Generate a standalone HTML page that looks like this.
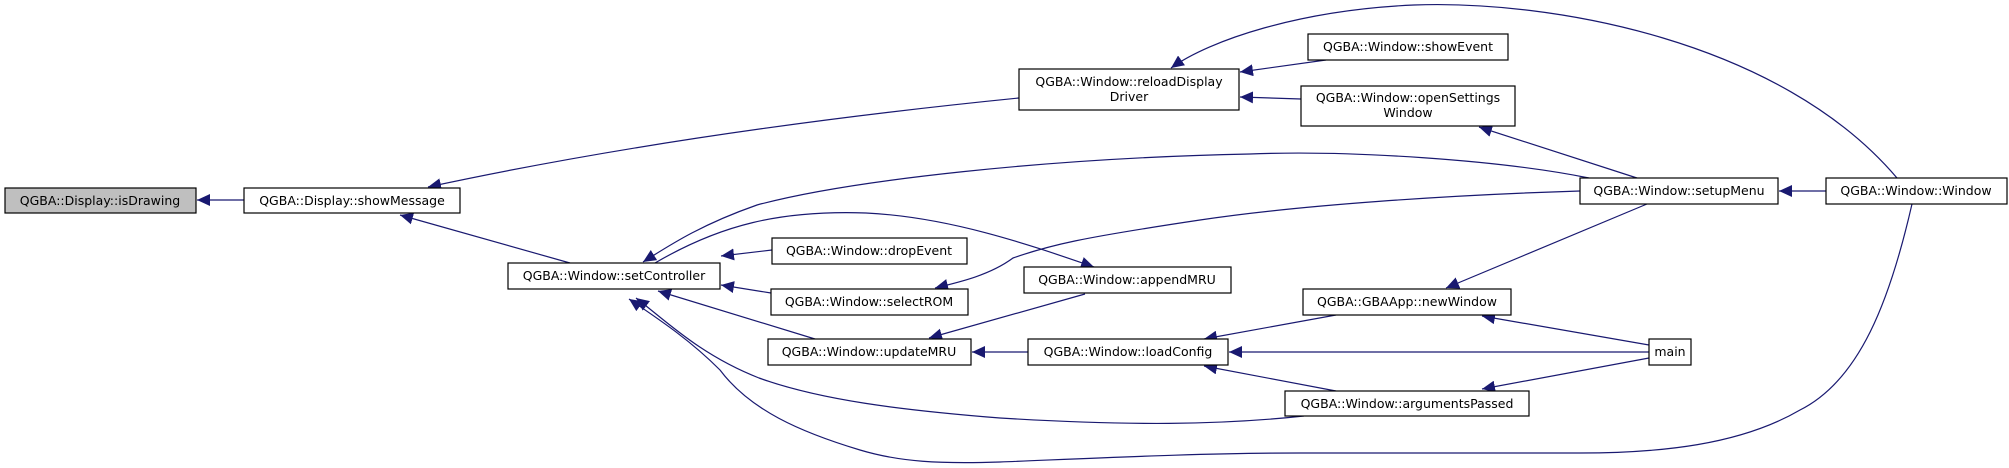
<!DOCTYPE html>
<html><head><meta charset="utf-8"><style>
html,body{margin:0;padding:0;background:#fff;}
svg{display:block;}
text{font-family:"DejaVu Sans","Liberation Sans",sans-serif;font-size:12.5px;fill:#000;}
</style></head><body>
<svg width="2009" height="468" viewBox="0 0 2009 468" xmlns="http://www.w3.org/2000/svg">
<defs>
<marker id="a" markerUnits="userSpaceOnUse" markerWidth="14" markerHeight="12" refX="13" refY="6" orient="auto">
<path d="M0,0 L13,6 L0,12 z" fill="#191970"/>
</marker>
</defs>
<g fill="none" stroke="#191970" stroke-width="1.2" marker-end="url(#a)">
<path d="M244,200 L197,200"/>
<path d="M1019,98 C800,120 600,150 428,187"/>
<path d="M570,263 L400,215"/>
<path d="M1326,60 L1240,72"/>
<path d="M1301,99 L1240,97"/>
<path d="M1897,178 C1780,40 1550,0 1414,5 C1300,10 1210,40 1171,68"/>
<path d="M1637,178 L1479,127"/>
<path d="M1826,191 L1779,191"/>
<path d="M1589,178 C1500,160 1350,150 1250,154 C1050,158 850,180 757,205 C700,225 670,245 643,262"/>
<path d="M1580,191 C1450,195 1300,205 1200,220 C1080,238 1050,245 1013,258 C990,275 960,282 935,288"/>
<path d="M655,263 C720,225 780,210 866,213 C950,217 1030,245 1094,267"/>
<path d="M772,250 L721,256"/>
<path d="M771,293 L721,285"/>
<path d="M815,339 L658,291"/>
<path d="M1085,294 L929,338"/>
<path d="M1028,352 L972,352"/>
<path d="M1336,315 L1204,339"/>
<path d="M1649,345 L1482,316"/>
<path d="M1649,352 L1229,352"/>
<path d="M1649,358 L1482,389"/>
<path d="M1336,391 L1204,366"/>
<path d="M1647,204 L1446,288"/>
<path d="M1304,416 C1220,425 1130,426 1000,418 C900,410 820,400 759,378 C700,355 665,320 636,298"/>
<path d="M1912,204 C1890,300 1860,380 1800,410 C1740,445 1660,453 1580,453 L1300,453 C1200,453 1100,458 1000,462 C940,464 900,462 860,450 C800,432 750,410 720,370 C690,340 660,320 629,299"/>
</g>
<g stroke="#000" stroke-width="1.2">
<rect x="5" y="188" width="191" height="25" fill="#bfbfbf"/>
<rect x="244" y="188" width="216" height="25" fill="#fff"/>
<rect x="508" y="263" width="212" height="26" fill="#fff"/>
<rect x="1019" y="69" width="220" height="41" fill="#fff"/>
<rect x="1308" y="34" width="200" height="26" fill="#fff"/>
<rect x="1301" y="86" width="214" height="40" fill="#fff"/>
<rect x="772" y="238" width="195" height="26" fill="#fff"/>
<rect x="771" y="289" width="197" height="26" fill="#fff"/>
<rect x="1024" y="267" width="207" height="26" fill="#fff"/>
<rect x="768" y="339" width="203" height="26" fill="#fff"/>
<rect x="1580" y="178" width="198" height="26" fill="#fff"/>
<rect x="1826" y="178" width="181" height="26" fill="#fff"/>
<rect x="1303" y="289" width="208" height="26" fill="#fff"/>
<rect x="1028" y="339" width="200" height="26" fill="#fff"/>
<rect x="1649" y="339" width="42" height="26" fill="#fff"/>
<rect x="1285" y="391" width="244" height="25" fill="#fff"/>
</g>
<g text-anchor="middle" stroke="none">
<text x="100" y="205">QGBA::Display::isDrawing</text>
<text x="352" y="205">QGBA::Display::showMessage</text>
<text x="614" y="280">QGBA::Window::setController</text>
<text x="1129" y="86">QGBA::Window::reloadDisplay</text>
<text x="1129" y="101">Driver</text>
<text x="1408" y="51">QGBA::Window::showEvent</text>
<text x="1408" y="102">QGBA::Window::openSettings</text>
<text x="1408" y="117">Window</text>
<text x="869" y="255">QGBA::Window::dropEvent</text>
<text x="869" y="306">QGBA::Window::selectROM</text>
<text x="1127" y="284">QGBA::Window::appendMRU</text>
<text x="869" y="356">QGBA::Window::updateMRU</text>
<text x="1679" y="195">QGBA::Window::setupMenu</text>
<text x="1916" y="195">QGBA::Window::Window</text>
<text x="1407" y="306">QGBA::GBAApp::newWindow</text>
<text x="1128" y="356">QGBA::Window::loadConfig</text>
<text x="1670" y="356">main</text>
<text x="1407" y="408">QGBA::Window::argumentsPassed</text>
</g>
</svg>
</body></html>
